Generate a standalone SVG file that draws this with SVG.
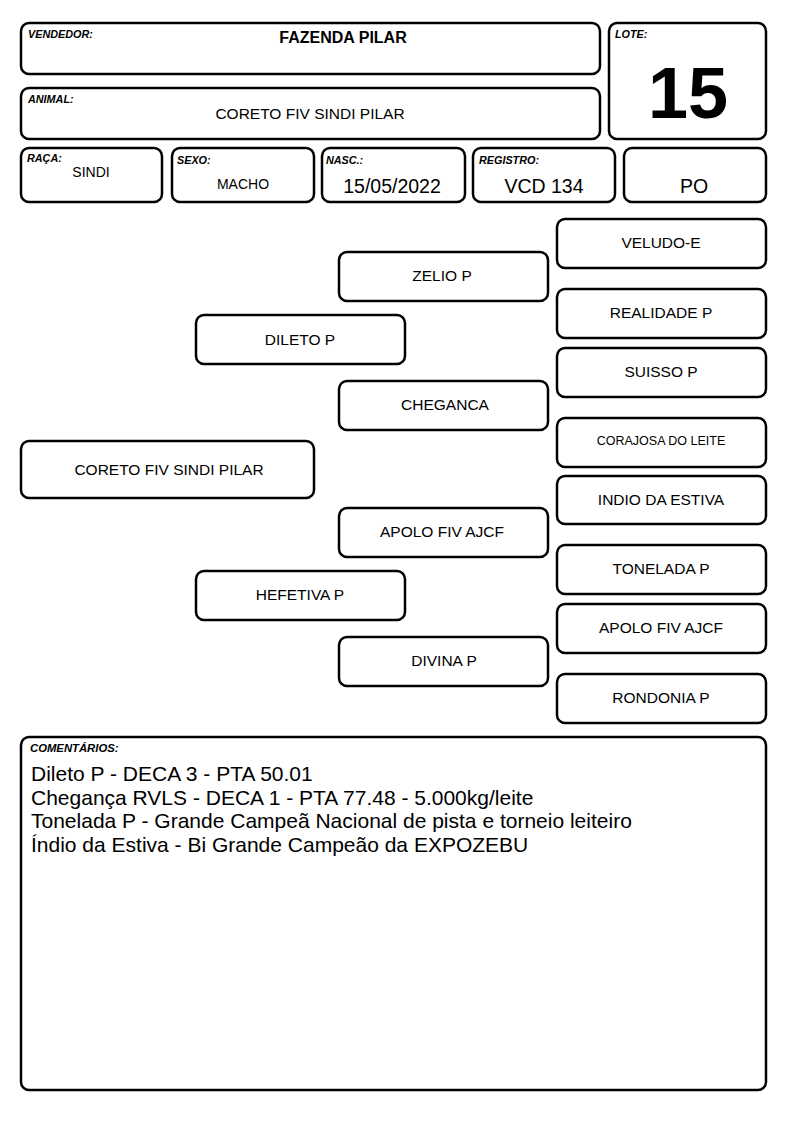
<svg xmlns="http://www.w3.org/2000/svg" width="794" height="1123" viewBox="0 0 794 1123">
<style>
rect{fill:#fff;stroke:#000;stroke-width:2.5}
text{font-family:"Liberation Sans",Arial,sans-serif;fill:#000}
.lbl{font-size:10.8px;font-weight:bold;font-style:italic}
.v{font-size:15px;text-anchor:middle}
.t{font-size:15.5px;text-anchor:middle;dominant-baseline:central}
.c{font-size:21px}
.big{font-size:19.5px}
</style>
<rect x="0" y="0" width="794" height="1123" style="stroke:none"/>
<g id="vendedor"><rect x="21" y="23" width="579" height="51" rx="8"/><text class="lbl" x="28" y="38">VENDEDOR:</text><text x="343" y="43" style="font-size:16px;font-weight:bold;text-anchor:middle">FAZENDA PILAR</text></g>
<g id="animal"><rect x="21" y="88" width="579" height="51" rx="8"/><text class="lbl" x="28" y="103">ANIMAL:</text><text class="v" x="310" y="119" style="font-size:15.5px">CORETO FIV SINDI PILAR</text></g>
<g id="lote"><rect x="609" y="23" width="157" height="116" rx="8"/><text class="lbl" x="615" y="38">LOTE:</text><text x="688" y="118" style="font-size:72px;font-weight:bold;text-anchor:middle">15</text></g>
<g id="raca"><rect x="21" y="148" width="141" height="54" rx="8"/><text class="lbl" x="27" y="162">RAÇA:</text><text class="v" x="91" y="177" style="font-size:14px">SINDI</text></g>
<g id="sexo"><rect x="172" y="148" width="142" height="54" rx="8"/><text class="lbl" x="177" y="164">SEXO:</text><text class="v" x="243" y="189" style="font-size:14px">MACHO</text></g>
<g id="nasc"><rect x="322" y="148" width="143" height="54" rx="8"/><text class="lbl" x="326" y="164">NASC.:</text><text class="v big" x="392" y="193">15/05/2022</text></g>
<g id="registro"><rect x="473" y="148" width="142" height="54" rx="8"/><text class="lbl" x="479" y="164">REGISTRO:</text><text class="v big" x="544" y="193">VCD 134</text></g>
<g id="po"><rect x="624" y="148" width="142" height="54" rx="8"/><text class="v big" x="694" y="193">PO</text></g>
<g id="veludo"><rect x="557" y="219" width="209" height="49" rx="8"/><text class="t" x="661" y="242">VELUDO-E</text></g>
<g id="realidade"><rect x="557" y="289" width="209" height="49" rx="8"/><text class="t" x="661" y="312">REALIDADE P</text></g>
<g id="suisso"><rect x="557" y="348" width="209" height="49" rx="8"/><text class="t" x="661" y="371">SUISSO P</text></g>
<g id="corajosa"><rect x="557" y="418" width="209" height="49" rx="8"/><text class="t" x="661" y="441" style="font-size:12.5px">CORAJOSA DO LEITE</text></g>
<g id="indio"><rect x="557" y="476" width="209" height="48" rx="8"/><text class="t" x="661" y="499">INDIO DA ESTIVA</text></g>
<g id="tonelada"><rect x="557" y="545" width="209" height="49" rx="8"/><text class="t" x="661" y="568">TONELADA P</text></g>
<g id="apolo2"><rect x="557" y="604" width="209" height="49" rx="8"/><text class="t" x="661" y="627">APOLO FIV AJCF</text></g>
<g id="rondonia"><rect x="557" y="674" width="209" height="49" rx="8"/><text class="t" x="661" y="697">RONDONIA P</text></g>
<g id="zelio"><rect x="339" y="252" width="209" height="49" rx="8"/><text class="t" x="442" y="275">ZELIO P</text></g>
<g id="cheganca"><rect x="339" y="381" width="209" height="49" rx="8"/><text class="t" x="445" y="404">CHEGANCA</text></g>
<g id="apolo"><rect x="339" y="508" width="209" height="49" rx="8"/><text class="t" x="442" y="531">APOLO FIV AJCF</text></g>
<g id="divina"><rect x="339" y="637" width="209" height="49" rx="8"/><text class="t" x="444" y="660">DIVINA P</text></g>
<g id="dileto"><rect x="196" y="315" width="209" height="49" rx="8"/><text class="t" x="300" y="339">DILETO P</text></g>
<g id="hefetiva"><rect x="196" y="571" width="209" height="49" rx="8"/><text class="t" x="300" y="594">HEFETIVA P</text></g>
<g id="coreto"><rect x="21" y="441" width="293" height="57" rx="8"/><text class="t" x="169" y="469">CORETO FIV SINDI PILAR</text></g>
<g id="connectors"></g>
<g id="comentarios"><rect x="21" y="737" width="745" height="353" rx="8"/><text class="lbl" x="30" y="752" style="font-size:11.3px">COMENTÁRIOS:</text>
<text class="c" x="31" y="781">Dileto P - DECA 3 - PTA 50.01</text>
<text class="c" x="31" y="805">Chegança RVLS - DECA 1 - PTA 77.48 - 5.000kg/leite</text>
<text class="c" x="31" y="828">Tonelada P - Grande Campeã Nacional de pista e torneio leiteiro</text>
<text class="c" x="31" y="852">Índio da Estiva - Bi Grande Campeão da EXPOZEBU</text>
</g>
</svg>
